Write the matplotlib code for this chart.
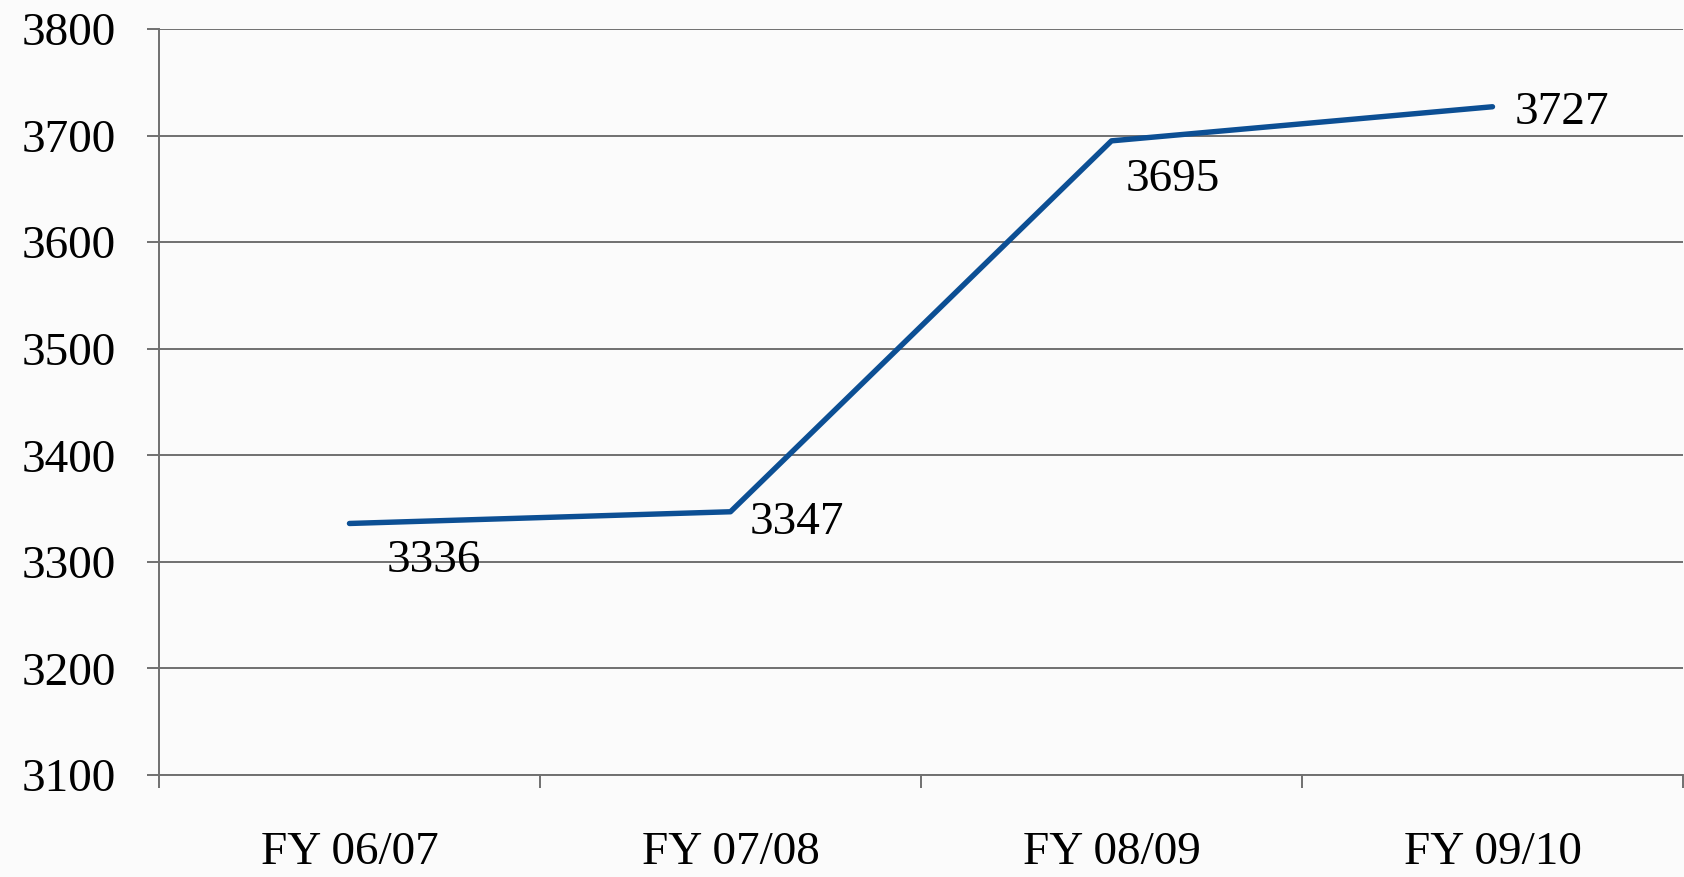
import matplotlib.pyplot as plt

# data
categories = ['FY 06/07', 'FY 07/08', 'FY 08/09', 'FY 09/10']
values = [3336, 3347, 3695, 3727]
yticks = [3100, 3200, 3300, 3400, 3500, 3600, 3700, 3800]

# label offsets (points) from each point
label_offsets = [(27, -27), (14, -8), (10, -28), (16, -4)]

plt.rcParams['font.family'] = ['Liberation Serif', 'DejaVu Serif']

fig = plt.figure(figsize=(16.84, 8.77), dpi=100, facecolor='#fbfbfb')
ax = fig.add_axes([0.0944, 0.1163, 0.905, 0.8507])
ax.set_facecolor('none')

x = [i + 0.5 for i in range(len(categories))]
ax.plot(x, values, color='#0c4f94', lw=3.9, solid_capstyle='round', zorder=3)

for xi, v, (dx, dy) in zip(x, values, label_offsets):
    ax.annotate(str(v), (xi, v), xytext=(dx, dy), textcoords='offset points',
                ha='left', va='center', fontsize=34, color='black')

ax.set_xlim(0, len(categories))
ax.set_ylim(yticks[0], yticks[-1])
ax.set_yticks(yticks)
ax.set_yticklabels([str(t) for t in yticks], fontsize=34)
ax.yaxis.grid(True, color='#707070', lw=1.4)
ax.set_axisbelow(True)

ax.set_xticks(x)
ax.set_xticklabels(categories, fontsize=34)
ax.set_xticks(range(len(categories) + 1), minor=True)
ax.tick_params(axis='x', which='major', length=0, pad=41)
ax.tick_params(axis='x', which='minor', length=9, width=1.4, color='#707070', direction='out')
ax.tick_params(axis='y', length=9, width=1.4, color='#707070', pad=22)

for s in ['top', 'right']:
    ax.spines[s].set_visible(False)
for s in ['left', 'bottom']:
    ax.spines[s].set_color('#707070')
    ax.spines[s].set_linewidth(1.4)

fig.savefig('out.png', dpi=100, facecolor=fig.get_facecolor())
